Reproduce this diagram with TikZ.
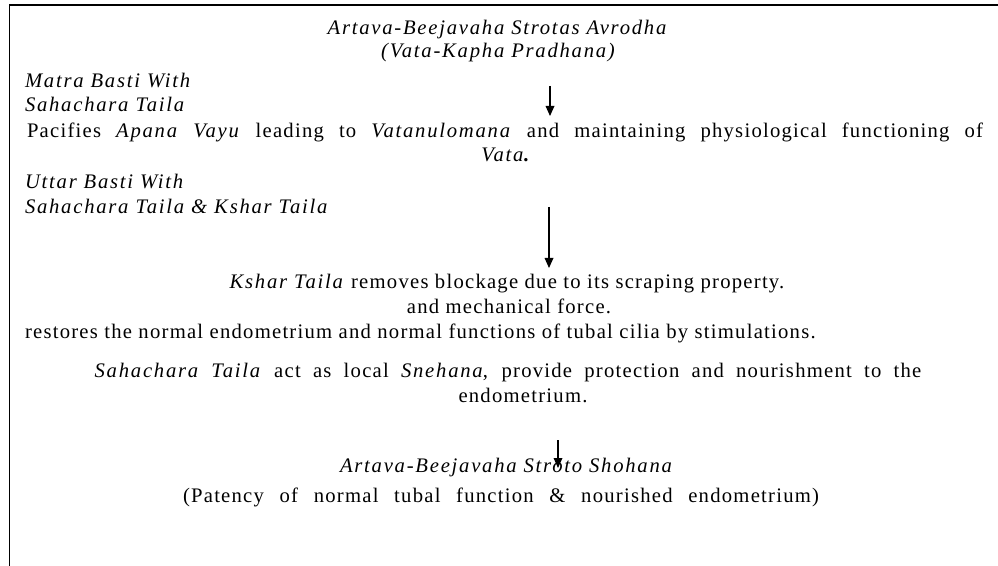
\documentclass[tikz,border=0pt]{standalone}
\usepackage{fontspec}
\setmainfont{Liberation Serif}[LetterSpace=6,ItalicFeatures={LetterSpace=8.5}]
\usetikzlibrary{arrows.meta}
\begin{document}
\begin{tikzpicture}[x=0.75pt,y=-0.75pt,
  txt/.style={inner sep=0pt,outer sep=0pt,font=\fontsize{15.5}{18}\selectfont},
  lt/.style={txt,anchor=base west},
  ct/.style={txt,anchor=base},
  arr/.style={line width=0.9pt,-{Triangle[length=7.5pt,width=6.5pt]}},
  frame/.style={line width=1.1pt}]
\useasboundingbox (0,0) rectangle (998,566);
\draw[frame] (9.5,566) -- (9.5,5) -- (998,5);
\node[ct] (t1) at (497,35) {\itshape Artava-Beejavaha Strotas Avrodha};
\node[ct] (t2) at (498,58) {\itshape (Vata-Kapha Pradhana)};
\node[lt] (m1) at (25,88) {\itshape Matra Basti With};
\node[lt] (m2) at (25,112) {\itshape Sahachara Taila};
\node[ct] (p1) at (505,138) {\makebox[717pt][s]{Pacifies \textit{Apana Vayu} leading to \textit{Vatanulomana} and maintaining physiological functioning of}};
\node[ct] (p2) at (505,162) {\itshape Vata\upshape\bfseries.};
\node[lt] (u1) at (25,189) {\itshape Uttar Basti With};
\node[lt] (u2) at (25,214) {\itshape Sahachara Taila \& Kshar Taila};
\node[ct] (k1) at (507,288) {\textit{Kshar Taila} removes blockage due to its scraping property.};
\node[ct] (k2) at (509,313) {and mechanical force.};
\node[lt] (k3) at (25,338) {restores the normal endometrium and normal functions of tubal cilia by stimulations.};
\node[ct] (s1) at (508,377) {\makebox[620pt][s]{\textit{Sahachara Taila} act as local \textit{Snehana}, provide protection and nourishment to the}};
\node[ct] (s2) at (523,402) {endometrium.};
\node[ct] (r1) at (506,472) {\itshape Artava-Beejavaha Stroto Shohana};
\node[ct] (r2) at (501,502) {\makebox[477pt][s]{(Patency of normal tubal function \& nourished endometrium)}};
\coordinate (a1s) at (550,86);
\coordinate (a1e) at (550,116);
\coordinate (a2s) at (549,207);
\coordinate (a2e) at (549,268);
\coordinate (a3s) at (558,440);
\coordinate (a3e) at (558,468);
\draw[arr] (a1s) -- (a1e);
\draw[arr] (a2s) -- (a2e);
\draw[arr] (a3s) -- (a3e);
\end{tikzpicture}
\end{document}
